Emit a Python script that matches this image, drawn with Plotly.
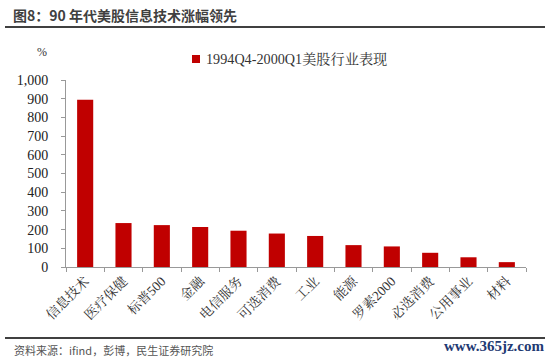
import plotly.graph_objects as go

categories = ["信息技术", "医疗保健", "标普500", "金融", "电信服务", "可选消费",
              "工业", "能源", "罗素2000", "必选消费", "公用事业", "材料"]
values = [895, 235, 224, 214, 194, 179, 166, 117, 110, 76, 52, 26]
series_name = "1994Q4-2000Q1美股行业表现"
y_ticks = [0, 100, 200, 300, 400, 500, 600, 700, 800, 900, 1000]
y_tick_text = ["0", "100", "200", "300", "400", "500", "600", "700", "800", "900", "1,000"]

L, R, T, B = 66, 24, 80, 94
W, H = 550, 361
pw = W - L - R
ph = H - T - B

def px(x):
    return (x - L) / pw

def py(y):
    return (H - B - y) / ph

serif = "Liberation Serif, Times New Roman, Noto Serif CJK SC, Noto Sans CJK SC, serif"
sans = "Noto Sans CJK SC, Microsoft YaHei, sans-serif"
bar_color = "#C00000"

fig = go.Figure()
fig.add_trace(go.Bar(
    x=categories, y=values, name=series_name,
    marker=dict(color=bar_color, line=dict(width=0)),
    width=0.42, showlegend=False,
))

fig.update_layout(
    width=W, height=H,
    margin=dict(l=L, r=R, t=T, b=B),
    paper_bgcolor="white", plot_bgcolor="white",
    showlegend=False,
    title=dict(text="<b>图8：90 年代美股信息技术涨幅领先</b>",
               x=13 / W, xref="container", xanchor="left",
               y=1 - 16 / H, yref="container", yanchor="middle",
               font=dict(family=sans, size=14, color="#404040")),
    xaxis=dict(
        showline=True, linecolor="#999999", linewidth=1,
        ticks="outside", tickson="boundaries", ticklen=4, tickcolor="#999999",
        tickangle=-45, tickfont=dict(family=serif, size=13.5, color="#333333"),
        showgrid=False,
    ),
    yaxis=dict(
        range=[0, 1000], tickvals=y_ticks, ticktext=y_tick_text,
        showline=True, linecolor="#999999", linewidth=1,
        ticks="outside", ticklen=4, tickcolor="#999999",
        ticklabelstandoff=10,
        tickfont=dict(family=serif, size=14, color="#222222"),
        showgrid=False, zeroline=False,
    ),
    bargap=0.58,
)

# legend key
fig.add_shape(type="rect", xref="paper", yref="paper",
              x0=px(192), x1=px(200), y0=py(63), y1=py(55),
              fillcolor=bar_color, line=dict(width=0))
fig.add_annotation(text=series_name, xref="paper", yref="paper",
                   x=px(204), y=py(59), showarrow=False, xanchor="left", yanchor="middle",
                   font=dict(family=serif, size=14.2, color="#333333"))

fig.add_shape(type="line", xref="paper", yref="paper",
              x0=px(5), x1=px(545), y0=py(27), y1=py(27),
              line=dict(color="#404040", width=2))
fig.add_shape(type="line", xref="paper", yref="paper",
              x0=px(5), x1=px(545), y0=py(338), y1=py(338),
              line=dict(color="#404040", width=2))

fig.add_annotation(text="%", xref="paper", yref="paper", x=px(42), y=py(52),
                   showarrow=False, xanchor="center", yanchor="middle",
                   font=dict(family=serif, size=12, color="#333333"))
fig.add_annotation(text="资料来源：ifind，彭博，民生证券研究院", xref="paper", yref="paper",
                   x=px(12), y=py(350), showarrow=False, xanchor="left", yanchor="middle",
                   font=dict(family=sans, size=11, color="#555555"))
fig.add_annotation(text="<b>www.365jz.com</b>", xref="paper", yref="paper",
                   x=px(546), y=py(346), showarrow=False, xanchor="right", yanchor="middle",
                   font=dict(family=serif, size=15, color="#1F3A73"))

fig.write_html("out.html", config={"displayModeBar": False},
               post_script="document.body.style.margin='0';document.body.style.padding='0';")
